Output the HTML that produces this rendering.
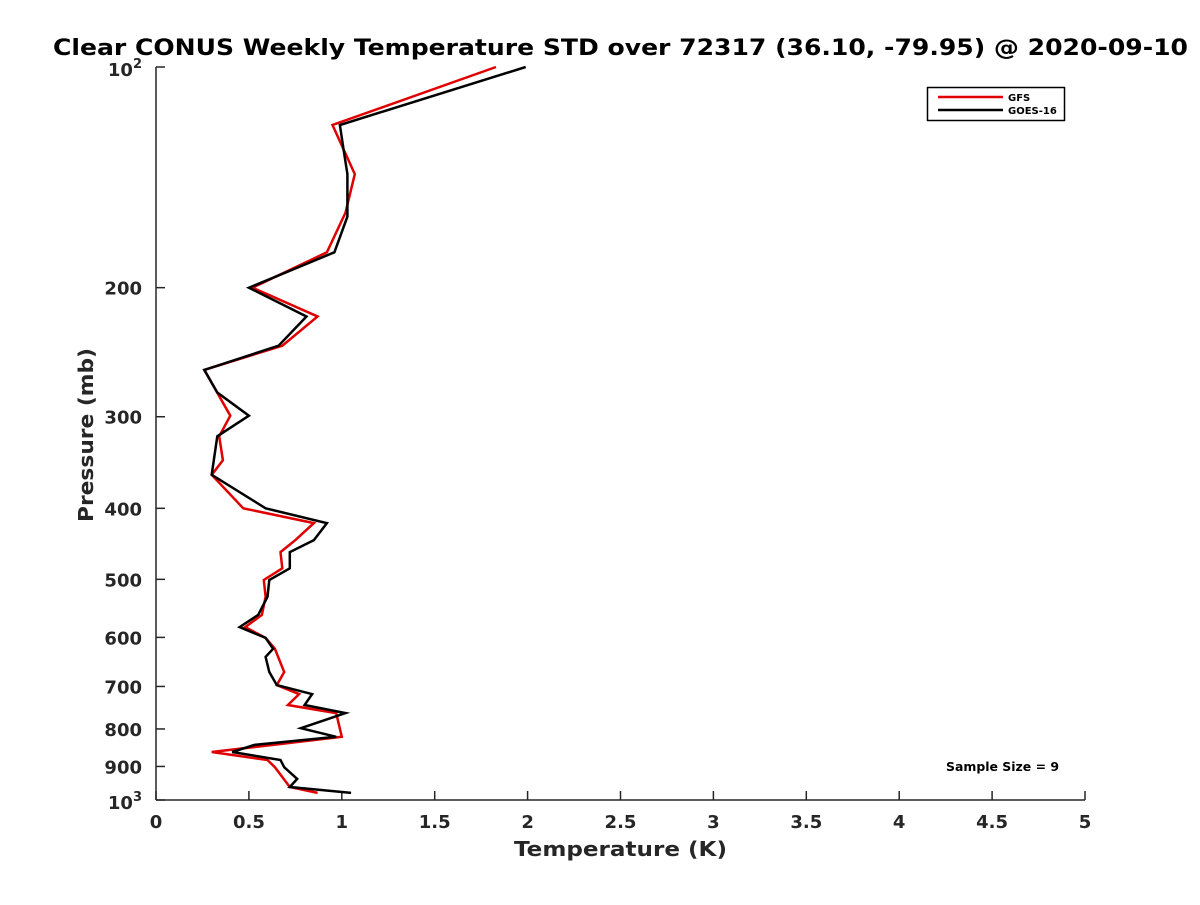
<!DOCTYPE html>
<html><head><meta charset="utf-8"><style>
body{margin:0;background:#fff}
svg text{font-family:"DejaVu Sans","Liberation Sans",sans-serif;font-weight:bold;fill:#262626}
</style></head><body>
<svg id="c" width="1200" height="900" xmlns="http://www.w3.org/2000/svg">
<rect width="1200" height="900" fill="#fff"/>
<text x="53" y="55" font-size="22" textLength="1135" lengthAdjust="spacingAndGlyphs" fill="#000" style="fill:#000">Clear CONUS Weekly Temperature STD over 72317 (36.10, -79.95) @ 2020-09-10</text>
<g id="axes"></g>
<g id="lines"></g>
<text x="514" y="856" font-size="20" textLength="213" lengthAdjust="spacingAndGlyphs">Temperature (K)</text>
<text transform="translate(93,522) rotate(-90)" font-size="20" textLength="174" lengthAdjust="spacingAndGlyphs">Pressure (mb)</text>
<g>
<rect x="927.5" y="87.5" width="137" height="33" fill="#fff" stroke="#000" stroke-width="1.5"/>
<line x1="938" y1="97" x2="1003" y2="97" stroke="#e00000" stroke-width="2.5"/>
<text x="1008" y="101" font-size="10" fill="#000" style="fill:#000">GFS</text>
<line x1="938" y1="110" x2="1003" y2="110" stroke="#000" stroke-width="2.5"/>
<text x="1008" y="114" font-size="10" fill="#000" style="fill:#000">GOES-16</text>
</g>
<text x="946" y="771" font-size="12" textLength="113" lengthAdjust="spacingAndGlyphs" fill="#000" style="fill:#000">Sample Size = 9</text>
</svg>
<script>
const pGfs=[100,120,140,158,179,200,219,240,259,299,319,344,360,400,419,442,459,483,501,528,559,581,601,622,669,697,717,742,761,820,860,882,902,960,978];
const tGfs=[1.83,0.95,1.07,1.02,0.92,0.52,0.87,0.68,0.26,0.40,0.34,0.36,0.30,0.47,0.85,0.75,0.67,0.68,0.58,0.59,0.57,0.48,0.59,0.64,0.69,0.65,0.77,0.71,0.97,1.00,0.30,0.60,0.64,0.72,0.87];
const pGoes=[100,120,130,140,160,179,200,219,240,259,278,299,319,360,400,419,442,459,483,501,528,559,581,601,622,638,669,697,717,742,761,798,820,841,860,882,902,936,960,978];
const tGoes=[1.99,0.99,1.01,1.03,1.03,0.96,0.50,0.81,0.66,0.26,0.33,0.50,0.33,0.30,0.59,0.92,0.85,0.72,0.72,0.61,0.60,0.55,0.45,0.59,0.63,0.59,0.61,0.65,0.84,0.80,1.02,0.78,0.97,0.53,0.41,0.67,0.69,0.76,0.72,1.05];
const xTicks=[0,0.5,1,1.5,2,2.5,3,3.5,4,4.5,5];
const xTickLabels=["0","0.5","1","1.5","2","2.5","3","3.5","4","4.5","5"];
const yTicks=[200,300,400,500,600,700,800,900];
const NS="http://www.w3.org/2000/svg";
const X0=156,X1=1085,Y0=67,Y1=800;
function xs(v){return X0+(v-0)/(5-0)*(X1-X0);}
function ys(p){return Y0+(Math.log10(p)-2)*(Y1-Y0);}
function mk(tag,attrs,parent){const e=document.createElementNS(NS,tag);for(const k in attrs)e.setAttribute(k,attrs[k]);parent.appendChild(e);return e;}
const ax=document.getElementById('axes');
let l=mk('line',{x1:X0,y1:Y1,x2:X1,y2:Y1,stroke:'#262626','stroke-width':1.5},ax);


l=mk('line',{x1:X0,y1:Y0,x2:X0,y2:Y1,stroke:'#262626','stroke-width':1.5},ax);


xTicks.forEach((v,i)=>{
 const t=mk('line',{x1:xs(v),y1:Y1,x2:xs(v),y2:Y1-9,stroke:'#262626','stroke-width':1.5},ax);
 
 
 const tx=mk('text',{x:xs(v),y:Y1+28,'font-size':18,'text-anchor':'middle'},ax);
 tx.textContent=xTickLabels[i];
 
 
});
const allY=[100].concat(yTicks).concat([1000]);
allY.forEach(p=>{
 const t=mk('line',{x1:X0,y1:ys(p),x2:X0+9,y2:ys(p),stroke:'#262626','stroke-width':1.5},ax);
 
 
});
yTicks.forEach(p=>{
 const tx=mk('text',{x:X0-14,y:ys(p)+7,'font-size':18,'text-anchor':'end'},ax);
 tx.textContent=String(p);
 
 
});
[[100,'2'],[1000,'3']].forEach(([p,e])=>{
 const tx=mk('text',{x:X0-14,y:ys(p)+9,'font-size':18,'text-anchor':'end'},ax);
 tx.innerHTML='10<tspan dy="-8" font-size="13">'+e+'</tspan>';
 
 
});
const lg=document.getElementById('lines');
function series(ps,ts,col,name){
 const pts=ps.map((p,i)=>xs(ts[i]).toFixed(1)+','+ys(p).toFixed(1)).join(' ');
 const pl=mk('polyline',{points:pts,fill:'none',stroke:col,'stroke-width':2.5,'stroke-linejoin':'miter'},lg);
 
 
}
series(pGfs,tGfs,'#e00000','gfs-line');
series(pGoes,tGoes,'#000000','goes16-line');
</script>
</body></html>
